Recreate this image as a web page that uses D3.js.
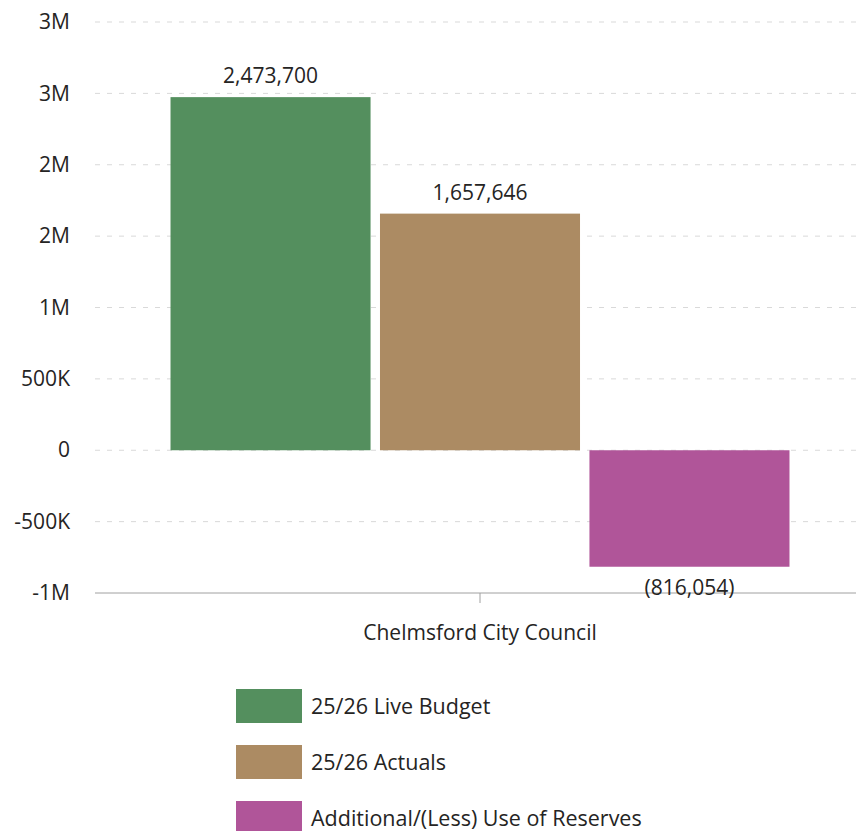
<!DOCTYPE html>
<html>
<head>
<meta charset="utf-8">
<script src="https://cdn.jsdelivr.net/npm/d3@7"></script>
<style>
  html, body { margin: 0; padding: 0; background: #fff; }
  svg { display: block; }
  svg text { font-family: "Open Sans", "Segoe UI", sans-serif; }
</style>
</head>
<body>
<svg id="chart" width="856" height="831"></svg>
<script>
// Council budget vs actuals
const categories = ["Chelmsford City Council"];
const seriesNames = ["25/26 Live Budget", "25/26 Actuals", "Additional/(Less) Use of Reserves"];
const seriesValues = [2473700, 1657646, -816054];
const seriesColors = ["#548F5E", "#AC8B63", "#B05599"];
const yTicks = [-1000000, -500000, 0, 500000, 1000000, 1500000, 2000000, 2500000, 3000000];

const svg = d3.select("#chart");
const textColor = "#252423";
const fontFamily = '"Open Sans", "Segoe UI", sans-serif';

const y = d3.scaleLinear().domain([-1000000, 3000000]).range([593, 22]);
const x0 = d3.scaleBand().domain(categories).range([95, 865]).paddingOuter(0.122);
const x1 = d3.scaleBand().domain(seriesNames).range([0, x0.bandwidth()])
  .paddingInner(0.045).paddingOuter(0);

const fmtTick = d => d === 0 ? "0"
  : Math.abs(d) >= 1e6 ? Math.round(d / 1e6) + "M"
  : (d / 1e3) + "K";
const fmtVal = d => d < 0 ? "(" + d3.format(",")(-d) + ")" : d3.format(",")(d);

// value axis (labels only)
const yAxis = svg.append("g")
  .attr("transform", "translate(95,0)")
  .call(d3.axisLeft(y).tickValues(yTicks).tickFormat(fmtTick).tickSize(0).tickPadding(25))
  .attr("font-family", fontFamily)
  .attr("font-size", 21);
yAxis.select(".domain").remove();
yAxis.selectAll("text").attr("fill", textColor);

// dashed gridlines
svg.append("g").selectAll("line")
  .data(yTicks.filter(d => d !== -1000000))
  .join("line")
  .attr("x1", 95).attr("x2", 856)
  .attr("y1", d => y(d)).attr("y2", d => y(d))
  .attr("stroke", "#d9d9d9")
  .attr("stroke-width", 1)
  .attr("stroke-dasharray", "5,7");

// category axis
const xAxis = svg.append("g")
  .attr("transform", `translate(0,${y(-1000000)})`)
  .call(d3.axisBottom(x0).tickSize(10).tickSizeOuter(0).tickPadding(22))
  .attr("font-family", fontFamily)
  .attr("font-size", 21);
xAxis.select(".domain").attr("d", "M95,0H856").attr("stroke", "#a0a0a0");
xAxis.selectAll(".tick line").attr("stroke", "#a0a0a0");
xAxis.selectAll("text").attr("fill", textColor);

// bars
const rows = seriesNames.map((name, i) => ({ name, value: seriesValues[i], color: seriesColors[i] }));
const group = svg.append("g").attr("transform", `translate(${x0(categories[0])},0)`);

group.selectAll("rect")
  .data(rows)
  .join("rect")
  .attr("x", d => x1(d.name))
  .attr("width", x1.bandwidth())
  .attr("y", d => y(Math.max(0, d.value)))
  .attr("height", d => Math.abs(y(d.value) - y(0)))
  .attr("fill", d => d.color);

// value labels
group.selectAll("text.val")
  .data(rows)
  .join("text")
  .attr("class", "val")
  .attr("x", d => x1(d.name) + x1.bandwidth() / 2)
  .attr("y", d => d.value >= 0 ? y(d.value) - 14 : y(d.value) + 28)
  .attr("text-anchor", "middle")
  .attr("fill", textColor)
  .style("font-size", "21px")
  .text(d => fmtVal(d.value));

// legend
const legend = svg.append("g").attr("transform", "translate(236,689)");
const item = legend.selectAll("g")
  .data(rows)
  .join("g")
  .attr("transform", (d, i) => `translate(0,${i * 56})`);
item.append("rect")
  .attr("width", 66).attr("height", 34)
  .attr("fill", d => d.color);
item.append("text")
  .attr("x", 75).attr("y", 17)
  .attr("dy", "0.35em")
  .attr("fill", textColor)
  .style("font-size", "21.5px")
  .text(d => d.name);
</script>
</body>
</html>
